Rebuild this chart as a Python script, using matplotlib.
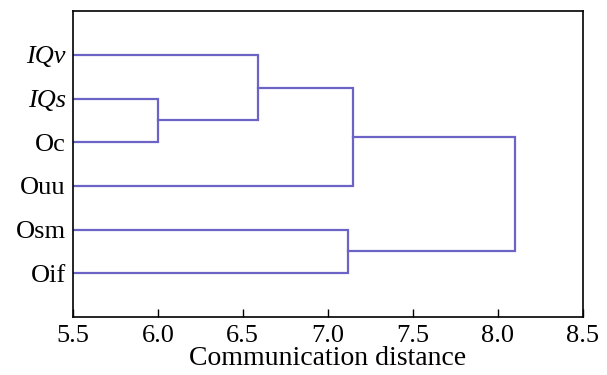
import matplotlib.pyplot as plt

plt.rcParams['font.family'] = ['Liberation Serif', 'DejaVu Serif']

# leaves top to bottom
leaves = ['IQv', 'IQs', 'Oc', 'Ouu', 'Osm', 'Oif']
italic = [True, True, False, False, False, False]
# merges: (left node, right node, distance); nodes >= 6 are earlier merges
merges = [
    (1, 2, 6.00),
    (0, 6, 6.59),
    (4, 5, 7.12),
    (7, 3, 7.15),
    (9, 8, 8.10),
]

color = '#6b63c6'

fig, ax = plt.subplots(figsize=(6.07, 3.75), dpi=100)

# y positions: first leaf on top
n = len(leaves)
ypos = {i: n - i for i in range(n)}
xpos = {i: 5.5 for i in range(n)}

for k, (a, b, d) in enumerate(merges):
    ya, yb = ypos[a], ypos[b]
    ax.plot([xpos[a], d, d, xpos[b]], [ya, ya, yb, yb], color=color, lw=1.6,
            solid_joinstyle='miter')
    ypos[n + k] = (ya + yb) / 2
    xpos[n + k] = d

ax.set_xlim(5.5, 8.5)
ax.set_ylim(0, n + 1)
ax.set_xticks([5.5, 6.0, 6.5, 7.0, 7.5, 8.0, 8.5])
ax.set_xticklabels(['5.5', '6.0', '6.5', '7.0', '7.5', '8.0', '8.5'])
ax.set_yticks([n - i for i in range(n)])
ax.set_yticklabels([leaves[i] for i in range(n)])
for lab, it in zip(ax.get_yticklabels(), italic):
    if it:
        lab.set_style('italic')
ax.tick_params(axis='x', direction='in', length=6, width=1, labelsize=19, pad=6, top=False)
ax.tick_params(axis='y', length=0, labelsize=19, pad=5)
ax.set_xlabel('Communication distance', fontsize=20, labelpad=-1)
for s in ax.spines.values():
    s.set_linewidth(1.2)

fig.subplots_adjust(left=0.12, right=0.96, top=0.97, bottom=0.155)
fig.savefig('out.png', dpi=100)
